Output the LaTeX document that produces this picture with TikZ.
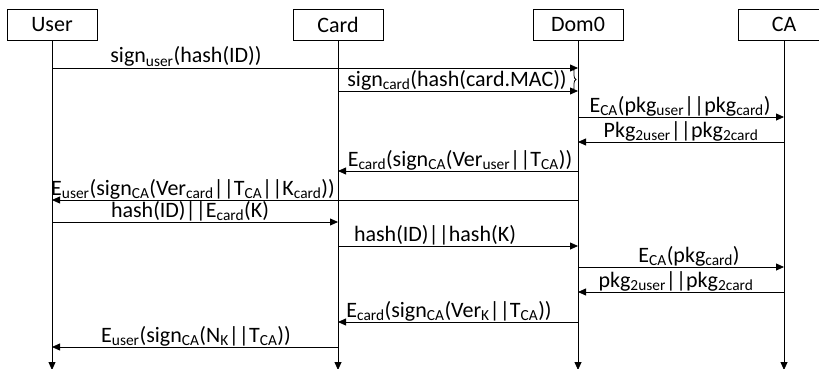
\documentclass[tikz,border=0pt]{standalone}
\usepackage{fontspec}
\setmainfont{Carlito}
\usetikzlibrary{arrows.meta,decorations.pathreplacing}
\newcommand\subt[1]{\textsubscript{#1}}

\begin{document}
\begin{tikzpicture}[x=1pt,y=-1pt,>={Triangle[length=8pt,width=7pt]},line width=0.8pt,
		actor/.style={draw,minimum width=90pt,minimum height=31pt,inner sep=0pt,font=\fontsize{22}{24}\selectfont},
		msg/.style={anchor=base,inner sep=0pt,font=\fontsize{22}{24}\selectfont}]
	\useasboundingbox (0,0) rectangle (819,369);
	\clip (0,0) rectangle (819,369);
	\node[actor] (user) at (52,24.5) {User};
	\node[actor] (card) at (338,24.5) {Card};
	\node[actor] (dom0) at (578,24.5) {Dom0};
	\node[actor,minimum width=92pt] (ca) at (784,24.5) {CA};
	\foreach \n in {user,card,dom0,ca}{
		\draw[->] (\n.south) -- (\n |- 0,370);
	}
	\foreach \y/\a/\b/\lx/\txt [count=\i] in {
		68/user/dom0/186/{sign\subt{user}(hash(ID))},
		91/card/dom0/457/{sign\subt{card}(hash(card.MAC))},
		117/dom0/ca/680/{E\subt{CA}(pkg\subt{user}||pkg\subt{card})},
		142/ca/dom0/681/{Pkg\subt{2user}||pkg\subt{2card}},
		171/dom0/card/460/{E\subt{card}(sign\subt{CA}(Ver\subt{user}||T\subt{CA}))},
		200/dom0/user/193/{E\subt{user}(sign\subt{CA}(Ver\subt{card}||T\subt{CA}||K\subt{card}))},
		222/user/card/190/{hash(ID)||E\subt{card}(K)},
		246/card/dom0/435/{hash(ID)||hash(K)},
		267/dom0/ca/689/{E\subt{CA}(pkg\subt{card})},
		292/ca/dom0/676/{pkg\subt{2user}||pkg\subt{2card}},
		322/dom0/card/449/{E\subt{card}(sign\subt{CA}(Ver\subt{K}||T\subt{CA}))},
		347/card/user/196/{E\subt{user}(sign\subt{CA}(N\subt{K}||T\subt{CA}))}
	}{
		\draw[->] (\a |- 0,\y) -- (\b |- 0,\y);
		\node[msg] (m\i) at (\lx,\y-5) {\txt};
	}
	\draw[decorate,decoration={brace,amplitude=4pt}] (572,67) -- (572,92);
\end{tikzpicture}
\end{document}
